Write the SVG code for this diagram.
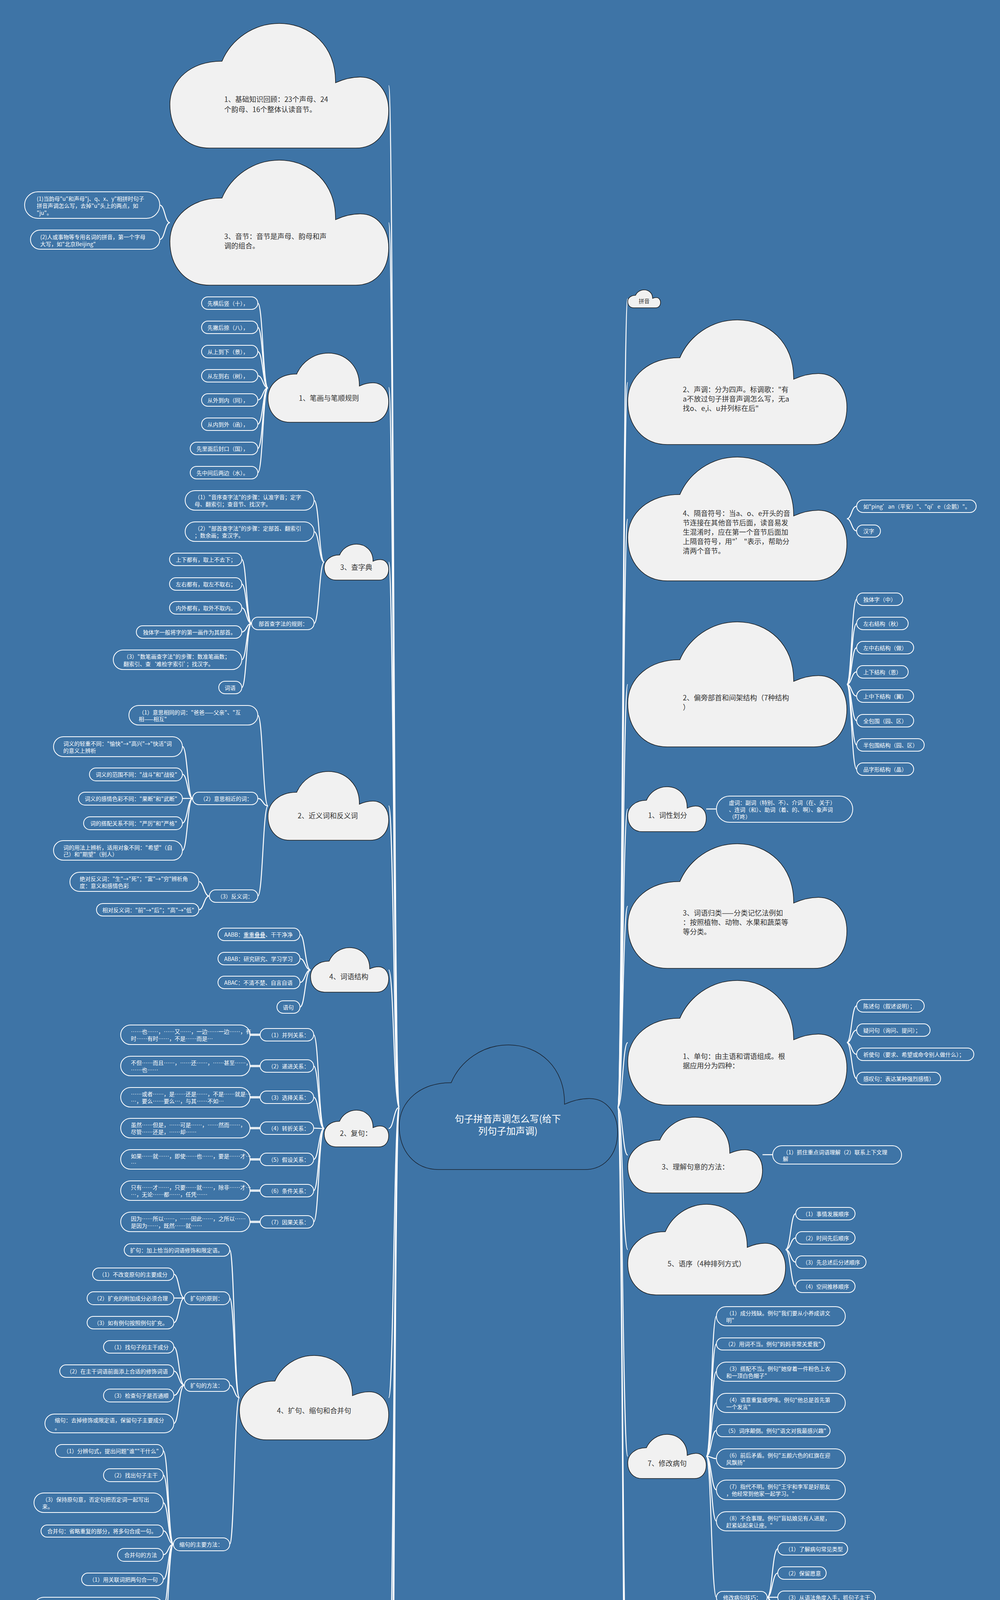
<svg xmlns="http://www.w3.org/2000/svg" width="2560" height="5670" viewBox="0 0 2560 5670">
<defs>
<path id="cloud" vector-effect="non-scaling-stroke" d="M23.8,30.3 C28,13 38,0 50,0 C64,0 76,18 75.7,47.6 C79,45 83,43 87,43 C95,43 100,55 100,70 C100,88 94,100 85,100 L18,100 C7,100 0,85 0,65 C0,45 10,30 23.8,30.3 Z"/>
<style>
.cl{fill:#f1f1f1;stroke:#1a1a1a;stroke-width:1.5}
.cc{fill:none;stroke:#1a2330;stroke-width:1.5}
.pl{fill:none;stroke:#fff;stroke-width:2}
.cn{fill:none;stroke:#fff;stroke-width:2.5}
text{font-family:"Noto Sans CJK SC","Noto Sans",sans-serif;dominant-baseline:central}
.ct{font-size:18px;fill:#333}
.pt{font-size:14px;fill:#fff}
.pc{font-size:14px;fill:#333}
.mt{font-size:24px;fill:#fff;text-anchor:middle}
</style>
</defs>
<rect width="2560" height="5670" fill="#3e74a6"/>

<g id="connectors">
<path class="cn" d="M1022,2835 C1008,2835 1008,219 995,219"/>
<path class="cn" d="M1022,2835 C1008,2835 1008,570 995,570"/>
<path class="cn" d="M1022,2835 C1008,2835 1008,992 995,992"/>
<path class="cn" d="M1022,2835 C1008,2835 1008,1439 995,1439"/>
<path class="cn" d="M1022,2835 C1008,2835 1008,2063 995,2063"/>
<path class="cn" d="M1022,2835 C1008,2835 1008,2483 995,2483"/>
<path class="cn" d="M1022,2835 C1008,2835 1008,2889 995,2889"/>
<path class="cn" d="M1022,2835 C1008,2835 1008,3578 995,3578"/>
<path class="cn" d="M1022,2835 C1008,2835 1008,4331 995,4331"/>
<path class="cn" d="M1022,2835 C1008,2835 1008,4860 995,4860"/>
<path class="cn" d="M1022,2835 C1008,2835 1008,5449 995,5449"/>
<path class="cn" d="M1581,2835 C1594,2835 1594,765 1607,765"/>
<path class="cn" d="M1581,2835 C1594,2835 1594,979 1607,979"/>
<path class="cn" d="M1581,2835 C1594,2835 1594,1329 1607,1329"/>
<path class="cn" d="M1581,2835 C1594,2835 1594,1752 1607,1752"/>
<path class="cn" d="M1581,2835 C1594,2835 1594,2071 1607,2071"/>
<path class="cn" d="M1581,2835 C1594,2835 1594,2320 1607,2320"/>
<path class="cn" d="M1581,2835 C1594,2835 1594,2669 1607,2669"/>
<path class="cn" d="M1581,2835 C1594,2835 1594,2957 1607,2957"/>
<path class="cn" d="M1581,2835 C1594,2835 1594,3199 1607,3199"/>
<path class="cn" d="M1581,2835 C1594,2835 1594,3728 1607,3728"/>
<path class="cn" d="M1581,2835 C1594,2835 1594,4422 1607,4422"/>
<path class="cn" d="M1581,2835 C1594,2835 1594,4770 1607,4770"/>
<path class="cn" d="M435,570 C422,570 422,525 409,525"/>
<path class="cn" d="M435,570 C422,570 422,613 409,613"/>
<path class="cn" d="M686,993 C673,993 673,776 660,776"/>
<path class="cn" d="M686,993 C673,993 673,838 660,838"/>
<path class="cn" d="M686,993 C673,993 673,900 660,900"/>
<path class="cn" d="M686,993 C673,993 673,962 660,962"/>
<path class="cn" d="M686,993 C673,993 673,1024 660,1024"/>
<path class="cn" d="M686,993 C673,993 673,1086 660,1086"/>
<path class="cn" d="M686,993 C673,993 673,1148 660,1148"/>
<path class="cn" d="M686,993 C673,993 673,1210 660,1210"/>
<path class="cn" d="M830,1439 C817,1439 817,1281 804,1281"/>
<path class="cn" d="M830,1439 C817,1439 817,1361 804,1361"/>
<path class="cn" d="M830,1439 C817,1439 817,1596 804,1596"/>
<path class="cn" d="M644,1596 C631,1596 631,1432 619,1432"/>
<path class="cn" d="M644,1596 C631,1596 631,1495 619,1495"/>
<path class="cn" d="M644,1596 C631,1596 631,1556 619,1556"/>
<path class="cn" d="M644,1596 C631,1596 631,1618 619,1618"/>
<path class="cn" d="M644,1596 C631,1596 631,1689 619,1689"/>
<path class="cn" d="M644,1596 C631,1596 631,1760 619,1760"/>
<path class="cn" d="M686,2063 C673,2063 673,1831 660,1831"/>
<path class="cn" d="M686,2063 C673,2063 673,2044 660,2044"/>
<path class="cn" d="M686,2063 C673,2063 673,2294 660,2294"/>
<path class="cn" d="M493,2044 C480,2044 480,1911 467,1911"/>
<path class="cn" d="M493,2044 C480,2044 480,1982 467,1982"/>
<path class="cn" d="M493,2044 C480,2044 480,2044 467,2044"/>
<path class="cn" d="M493,2044 C480,2044 480,2107 467,2107"/>
<path class="cn" d="M493,2044 C480,2044 480,2177 467,2177"/>
<path class="cn" d="M536,2294 C522,2294 522,2257 509,2257"/>
<path class="cn" d="M536,2294 C522,2294 522,2329 509,2329"/>
<path class="cn" d="M795,2483 C781,2483 781,2392 768,2392"/>
<path class="cn" d="M795,2483 C781,2483 781,2454 768,2454"/>
<path class="cn" d="M795,2483 C781,2483 781,2515 768,2515"/>
<path class="cn" d="M795,2483 C781,2483 781,2578 768,2578"/>
<path class="cn" d="M830,2889 C816,2889 816,2649 803,2649"/>
<path class="cn" d="M830,2889 C816,2889 816,2729 803,2729"/>
<path class="cn" d="M830,2889 C816,2889 816,2809 803,2809"/>
<path class="cn" d="M830,2889 C816,2889 816,2888 803,2888"/>
<path class="cn" d="M830,2889 C816,2889 816,2968 803,2968"/>
<path class="cn" d="M830,2889 C816,2889 816,3048 803,3048"/>
<path class="cn" d="M830,2889 C816,2889 816,3128 803,3128"/>
<path class="cn" d="M640,2647.5 H666 M640,2650.5 H666"/>
<path class="cn" d="M640,2727.5 H666 M640,2730.5 H666"/>
<path class="cn" d="M640,2807.5 H666 M640,2810.5 H666"/>
<path class="cn" d="M640,2886.5 H666 M640,2889.5 H666"/>
<path class="cn" d="M640,2966.5 H666 M640,2969.5 H666"/>
<path class="cn" d="M640,3046.5 H666 M640,3049.5 H666"/>
<path class="cn" d="M640,3126.5 H666 M640,3129.5 H666"/>
<path class="cn" d="M613,3578 C600,3578 600,3200 588,3200"/>
<path class="cn" d="M613,3578 C600,3578 600,3323 588,3323"/>
<path class="cn" d="M613,3578 C600,3578 600,3546 588,3546"/>
<path class="cn" d="M613,3578 C600,3578 600,3953 588,3953"/>
<path class="cn" d="M472,3323 C458,3323 458,3262 445,3262"/>
<path class="cn" d="M472,3323 C458,3323 458,3323 445,3323"/>
<path class="cn" d="M472,3323 C458,3323 458,3386 445,3386"/>
<path class="cn" d="M472,3546 C458,3546 458,3448 445,3448"/>
<path class="cn" d="M472,3546 C458,3546 458,3510 445,3510"/>
<path class="cn" d="M472,3546 C458,3546 458,3572 445,3572"/>
<path class="cn" d="M472,3546 C458,3546 458,3644 445,3644"/>
<path class="cn" d="M444,3953 C431,3953 431,3714 418,3714"/>
<path class="cn" d="M444,3953 C431,3953 431,3776 418,3776"/>
<path class="cn" d="M444,3953 C431,3953 431,3847 418,3847"/>
<path class="cn" d="M444,3953 C431,3953 431,3919 418,3919"/>
<path class="cn" d="M444,3953 C431,3953 431,3980 418,3980"/>
<path class="cn" d="M444,3953 C431,3953 431,4043 418,4043"/>
<path class="cn" d="M444,3953 C431,3953 431,4114 418,4114"/>
<path class="cn" d="M444,3953 C431,3953 431,4193 418,4193"/>
<path class="cn" d="M795,4331 C781,4331 781,4282 768,4282"/>
<path class="cn" d="M795,4331 C781,4331 781,4381 768,4381"/>
<path class="cn" d="M592,4860 C578,4860 578,4479 565,4479"/>
<path class="cn" d="M592,4860 C578,4860 578,4568 565,4568"/>
<path class="cn" d="M592,4860 C578,4860 578,4648 565,4648"/>
<path class="cn" d="M592,4860 C578,4860 578,4728 565,4728"/>
<path class="cn" d="M592,4860 C578,4860 578,4808 565,4808"/>
<path class="cn" d="M592,4860 C578,4860 578,4879 565,4879"/>
<path class="cn" d="M592,4860 C578,4860 578,4950 565,4950"/>
<path class="cn" d="M592,4860 C578,4860 578,5030 565,5030"/>
<path class="cn" d="M592,4860 C578,4860 578,5111 565,5111"/>
<path class="cn" d="M592,4860 C578,4860 578,5182 565,5182"/>
<path class="cn" d="M592,4860 C578,4860 578,5244 565,5244"/>
<path class="cn" d="M2168,1328 C2180,1328 2180,1296 2193,1296"/>
<path class="cn" d="M2168,1328 C2180,1328 2180,1359 2193,1359"/>
<path class="cn" d="M2168,1752 C2180,1752 2180,1534 2193,1534"/>
<path class="cn" d="M2168,1752 C2180,1752 2180,1596 2193,1596"/>
<path class="cn" d="M2168,1752 C2180,1752 2180,1658 2193,1658"/>
<path class="cn" d="M2168,1752 C2180,1752 2180,1720 2193,1720"/>
<path class="cn" d="M2168,1752 C2180,1752 2180,1782 2193,1782"/>
<path class="cn" d="M2168,1752 C2180,1752 2180,1845 2193,1845"/>
<path class="cn" d="M2168,1752 C2180,1752 2180,1907 2193,1907"/>
<path class="cn" d="M2168,1752 C2180,1752 2180,1969 2193,1969"/>
<path class="cn" d="M1808,2071 H1834"/>
<path class="cn" d="M2168,2669 C2180,2669 2180,2575 2193,2575"/>
<path class="cn" d="M2168,2669 C2180,2669 2180,2637 2193,2637"/>
<path class="cn" d="M2168,2669 C2180,2669 2180,2699 2193,2699"/>
<path class="cn" d="M2168,2669 C2180,2669 2180,2761 2193,2761"/>
<path class="cn" d="M1952,2956 H1978"/>
<path class="cn" d="M2011,3199 C2024,3199 2024,3107 2037,3107"/>
<path class="cn" d="M2011,3199 C2024,3199 2024,3169 2037,3169"/>
<path class="cn" d="M2011,3199 C2024,3199 2024,3231 2037,3231"/>
<path class="cn" d="M2011,3199 C2024,3199 2024,3293 2037,3293"/>
<path class="cn" d="M1808,3728 C1821,3728 1821,3369 1834,3369"/>
<path class="cn" d="M1808,3728 C1821,3728 1821,3440 1834,3440"/>
<path class="cn" d="M1808,3728 C1821,3728 1821,3511 1834,3511"/>
<path class="cn" d="M1808,3728 C1821,3728 1821,3591 1834,3591"/>
<path class="cn" d="M1808,3728 C1821,3728 1821,3662 1834,3662"/>
<path class="cn" d="M1808,3728 C1821,3728 1821,3734 1834,3734"/>
<path class="cn" d="M1808,3728 C1821,3728 1821,3814 1834,3814"/>
<path class="cn" d="M1808,3728 C1821,3728 1821,3894 1834,3894"/>
<path class="cn" d="M1808,3728 C1821,3728 1821,4089 1834,4089"/>
<path class="cn" d="M1964,4089 C1977,4089 1977,3965 1991,3965"/>
<path class="cn" d="M1964,4089 C1977,4089 1977,4027 1991,4027"/>
<path class="cn" d="M1964,4089 C1977,4089 1977,4089 1991,4089"/>
<path class="cn" d="M1964,4089 C1977,4089 1977,4151 1991,4151"/>
<path class="cn" d="M1964,4089 C1977,4089 1977,4213 1991,4213"/>
</g>

<g id="n-center">
<use href="#cloud" class="cc" transform="translate(1022 2675) scale(5.59 3.19)"/>
<text class="mt"><tspan x="1300" y="2862">句子拼音声调怎么写(给下</tspan><tspan x="1300" y="2893">列句子加声调)</tspan></text>
</g>

<g id="n-basic">
<use href="#cloud" class="cl" transform="translate(435 60) scale(5.6 3.19)"/>
<text class="ct"><tspan x="574" y="253">1、基础知识回顾：23个声母、24</tspan><tspan x="574" y="279">个韵母、16个整体认读音节。</tspan></text>
</g>
<g id="n-syllable">
<use href="#cloud" class="cl" transform="translate(435 410) scale(5.6 3.2)"/>
<text class="ct"><tspan x="574" y="604">3、音节：音节是声母、韵母和声</tspan><tspan x="574" y="628">调的组合。</tspan></text>
</g>
<g id="n-syl-1">
<rect class="pl" x="63" y="491" width="346" height="68" rx="34"/>
<text class="pt"><tspan x="94" y="508">(1)当韵母"u"和声母"j、q、x、y"相拼时句子</tspan><tspan x="94" y="526">拼音声调怎么写，去掉"u"头上的两点，如</tspan><tspan x="94" y="544">"ju"。</tspan></text>
</g>
<g id="n-syl-2">
<rect class="pl" x="78" y="589" width="331" height="49" rx="24.5"/>
<text class="pt"><tspan x="103" y="606">(2)人或事物等专用名词的拼音，第一个字母</tspan><tspan x="103" y="624">大写，如"北京Beijing"</tspan></text>
</g>

<g id="n-stroke">
<use href="#cloud" class="cl" transform="translate(686 904) scale(3.09 1.77)"/>
<text class="ct" x="765" y="1018">1、笔画与笔顺规则</text>
</g>
<g id="n-stroke-items">
<rect class="pl" x="516" y="760" width="144" height="32" rx="16"/><text class="pt" x="531" y="776">先横后竖（十），</text>
<rect class="pl" x="516" y="822" width="144" height="32" rx="16"/><text class="pt" x="531" y="838">先撇后捺（八），</text>
<rect class="pl" x="516" y="884" width="144" height="32" rx="16"/><text class="pt" x="531" y="900">从上到下（景），</text>
<rect class="pl" x="516" y="946" width="144" height="32" rx="16"/><text class="pt" x="531" y="962">从左到右（树），</text>
<rect class="pl" x="516" y="1008" width="144" height="32" rx="16"/><text class="pt" x="531" y="1024">从外到内（同），</text>
<rect class="pl" x="516" y="1070" width="144" height="32" rx="16"/><text class="pt" x="531" y="1086">从内到外（函），</text>
<rect class="pl" x="487" y="1132" width="173" height="32" rx="16"/><text class="pt" x="503" y="1148">先里面后封口（国），</text>
<rect class="pl" x="487" y="1194" width="173" height="32" rx="16"/><text class="pt" x="503" y="1210">先中间后两边（水）。</text>
</g>

<g id="n-dict">
<use href="#cloud" class="cl" transform="translate(830 1393) scale(1.65 0.92)"/>
<text class="ct" x="871" y="1451">3、查字典</text>
</g>
<g id="n-dict-items">
<rect class="pl" x="474" y="1256" width="330" height="50" rx="25"/>
<text class="pt"><tspan x="498" y="1272">（1）"音序查字法"的步骤：认准字音；定字</tspan><tspan x="498" y="1290">母、翻索引；查音节、找汉字。</tspan></text>
<rect class="pl" x="474" y="1336" width="330" height="50" rx="25"/>
<text class="pt"><tspan x="498" y="1352">（2）"部首查字法"的步骤：定部首、翻索引</tspan><tspan x="498" y="1370">；数余画；查汉字。</tspan></text>
<rect class="pl" x="644" y="1580" width="160" height="32" rx="16"/><text class="pt" x="662" y="1596">部首查字法的规则：</text>
<rect class="pl" x="434" y="1416" width="185" height="32" rx="16"/><text class="pt" x="450" y="1432">上下都有，取上不去下；</text>
<rect class="pl" x="434" y="1479" width="185" height="32" rx="16"/><text class="pt" x="450" y="1495">左右都有，取左不取右；</text>
<rect class="pl" x="434" y="1540" width="185" height="32" rx="16"/><text class="pt" x="450" y="1556">内外都有，取外不取内。</text>
<rect class="pl" x="349" y="1602" width="270" height="32" rx="16"/><text class="pt" x="366" y="1618">独体字一般将字的第一画作为其部首。</text>
<rect class="pl" x="290" y="1664" width="329" height="50" rx="25"/>
<text class="pt"><tspan x="316" y="1680">（3）"数笔画查字法"的步骤：数准笔画数；</tspan><tspan x="316" y="1699">翻索引、查‘难检字索引’；找汉字。</tspan></text>
<rect class="pl" x="560" y="1744" width="59" height="32" rx="16"/><text class="pt" x="589" y="1760" text-anchor="middle">词语</text>
</g>

<g id="n-syn">
<use href="#cloud" class="cl" transform="translate(686 1975) scale(3.09 1.76)"/>
<text class="ct" x="762" y="2087">2、近义词和反义词</text>
</g>
<g id="n-syn-items">
<rect class="pl" x="330" y="1806" width="330" height="50" rx="25"/>
<text class="pt"><tspan x="355" y="1823">（1）意思相同的词："爸爸——父亲"、"互</tspan><tspan x="355" y="1840">相——相互"</tspan></text>
<rect class="pl" x="493" y="2028" width="167" height="32" rx="16"/><text class="pt" x="512" y="2044">（2）意思相近的词：</text>
<rect class="pl" x="536" y="2278" width="124" height="32" rx="16"/><text class="pt" x="556" y="2294">（3）反义词：</text>
<rect class="pl" x="137" y="1886" width="330" height="51" rx="25.5"/>
<text class="pt"><tspan x="162" y="1903">词义的轻重不同："愉快"→"高兴"→"快活"词</tspan><tspan x="162" y="1921">的意义上辨析</tspan></text>
<rect class="pl" x="229" y="1966" width="238" height="33" rx="16.5"/><text class="pt" x="245" y="1982">词义的范围不同："战斗"和"战役"</text>
<rect class="pl" x="201" y="2028" width="266" height="33" rx="16.5"/><text class="pt" x="217" y="2044">词义的感情色彩不同："果断"和"武断"</text>
<rect class="pl" x="214" y="2091" width="253" height="33" rx="16.5"/><text class="pt" x="231" y="2107">词的搭配关系不同："严厉"和"严格"</text>
<rect class="pl" x="137" y="2152" width="330" height="50" rx="25"/>
<text class="pt"><tspan x="162" y="2169">词的用法上辨析，适用对象不同："希望"（自</tspan><tspan x="162" y="2186">己）和"期望"（别人）</tspan></text>
<rect class="pl" x="179" y="2233" width="330" height="49" rx="24.5"/>
<text class="pt"><tspan x="204" y="2249">绝对反义词："生"→"死"；"富"→"穷"辨析角</tspan><tspan x="204" y="2267">度：意义和感情色彩</tspan></text>
<rect class="pl" x="247" y="2313" width="262" height="32" rx="16"/><text class="pt" x="262" y="2329">相对反义词："前"→"后"；"高"→"低"</text>
</g>

<g id="n-struct">
<use href="#cloud" class="cl" transform="translate(795 2426) scale(2 1.14)"/>
<text class="ct" x="843" y="2499">4、词语结构</text>
</g>
<g id="n-struct-items">
<rect class="pl" x="558" y="2376" width="210" height="32" rx="16"/><text class="pt" x="574" y="2392">AABB：<tspan text-decoration="underline">重重叠叠</tspan>、干干净净</text>
<rect class="pl" x="558" y="2438" width="210" height="32" rx="16"/><text class="pt" x="574" y="2454">ABAB：研究研究、学习学习</text>
<rect class="pl" x="558" y="2499" width="210" height="32" rx="16"/><text class="pt" x="574" y="2515">ABAC：不清不楚、自言自语</text>
<rect class="pl" x="709" y="2562" width="59" height="32" rx="16"/><text class="pt" x="738" y="2578" text-anchor="middle">语句</text>
</g>

<g id="n-complex">
<use href="#cloud" class="cl" transform="translate(830 2842) scale(1.65 0.94)"/>
<text class="ct" x="870" y="2900">2、复句：</text>
</g>
<g id="n-complex-items">
<rect class="pl" x="666" y="2633" width="137" height="32" rx="16"/><text class="pt" x="686" y="2649">（1）并列关系：</text>
<rect class="pl" x="666" y="2713" width="137" height="32" rx="16"/><text class="pt" x="686" y="2729">（2）递进关系：</text>
<rect class="pl" x="666" y="2793" width="137" height="32" rx="16"/><text class="pt" x="686" y="2809">（3）选择关系：</text>
<rect class="pl" x="666" y="2872" width="137" height="32" rx="16"/><text class="pt" x="686" y="2888">（4）转折关系：</text>
<rect class="pl" x="666" y="2952" width="137" height="32" rx="16"/><text class="pt" x="686" y="2968">（5）假设关系：</text>
<rect class="pl" x="666" y="3032" width="137" height="32" rx="16"/><text class="pt" x="686" y="3048">（6）条件关系：</text>
<rect class="pl" x="666" y="3112" width="137" height="32" rx="16"/><text class="pt" x="686" y="3128">（7）因果关系：</text>
<rect class="pl" x="309" y="2624" width="331" height="50" rx="25"/>
<text class="pt"><tspan x="335" y="2640">……也……，……又……，一边……一边……，有</tspan><tspan x="335" y="2658">时……有时……，不是……而是…</tspan></text>
<rect class="pl" x="309" y="2704" width="331" height="50" rx="25"/>
<text class="pt"><tspan x="335" y="2720">不但……而且……，……还……，……甚至……，</tspan><tspan x="335" y="2738">……也……</tspan></text>
<rect class="pl" x="309" y="2784" width="331" height="50" rx="25"/>
<text class="pt"><tspan x="335" y="2800">……或者……，是……还是……，不是……就是…</tspan><tspan x="335" y="2818">…，要么……要么…，与其……不如…</tspan></text>
<rect class="pl" x="309" y="2863" width="331" height="50" rx="25"/>
<text class="pt"><tspan x="335" y="2879">虽然……但是，……可是……，……然而……，</tspan><tspan x="335" y="2897">尽管……还是，……却……</tspan></text>
<rect class="pl" x="309" y="2943" width="331" height="50" rx="25"/>
<text class="pt"><tspan x="335" y="2959">如果……就……，即使……也……，要是……才…</tspan><tspan x="335" y="2977">…</tspan></text>
<rect class="pl" x="309" y="3023" width="331" height="50" rx="25"/>
<text class="pt"><tspan x="335" y="3039">只有……才……，只要……就……，除非……才…</tspan><tspan x="335" y="3057">…，无论……都……，任凭……</tspan></text>
<rect class="pl" x="309" y="3103" width="331" height="50" rx="25"/>
<text class="pt"><tspan x="335" y="3119">因为……所以……，……因此……，之所以……</tspan><tspan x="335" y="3137">是因为……，既然……就……</tspan></text>
</g>

<g id="n-expand">
<use href="#cloud" class="cl" transform="translate(613 3470) scale(3.82 2.16)"/>
<text class="ct" x="709" y="3610">4、扩句、缩句和合并句</text>
</g>
<g id="n-expand-items">
<rect class="pl" x="318" y="3184" width="270" height="32" rx="16"/><text class="pt" x="333" y="3200">扩句：加上恰当的词语修饰和限定语。</text>
<rect class="pl" x="472" y="3307" width="116" height="33" rx="16.5"/><text class="pt" x="487" y="3323">扩句的原则：</text>
<rect class="pl" x="472" y="3530" width="116" height="32" rx="16"/><text class="pt" x="487" y="3546">扩句的方法：</text>
<rect class="pl" x="444" y="3937" width="144" height="33" rx="16.5"/><text class="pt" x="459" y="3953">缩句的主要方法：</text>
<rect class="pl" x="237" y="3246" width="208" height="32" rx="16"/><text class="pt" x="253" y="3262">（1）不改变原句的主要成分</text>
<rect class="pl" x="223" y="3307" width="222" height="33" rx="16.5"/><text class="pt" x="240" y="3323">（2）扩充的附加成分必须合理</text>
<rect class="pl" x="223" y="3370" width="222" height="32" rx="16"/><text class="pt" x="240" y="3386">（3）如有例句按照例句扩充。</text>
<rect class="pl" x="265" y="3432" width="180" height="32" rx="16"/><text class="pt" x="284" y="3448">（1）找句子的主干成分</text>
<rect class="pl" x="153" y="3494" width="292" height="32" rx="16"/><text class="pt" x="170" y="3510">（2）在主干词语前面添上合适的修饰词语</text>
<rect class="pl" x="265" y="3556" width="180" height="33" rx="16.5"/><text class="pt" x="284" y="3572">（3）检查句子是否通顺</text>
<rect class="pl" x="115" y="3620" width="330" height="48" rx="24"/>
<text class="pt"><tspan x="140" y="3635">缩句：去掉修饰或限定语，保留句子主要成分</tspan><tspan x="140" y="3654">。</tspan></text>
<rect class="pl" x="142" y="3698" width="276" height="33" rx="16.5"/><text class="pt" x="162" y="3714">（1）分辨句式，提出问题"谁""干什么"</text>
<rect class="pl" x="265" y="3760" width="153" height="33" rx="16.5"/><text class="pt" x="284" y="3776">（2）找出句子主干</text>
<rect class="pl" x="87" y="3822" width="331" height="50" rx="25"/>
<text class="pt"><tspan x="108" y="3838">（3）保持原句意，否定句把否定词一起写出</tspan><tspan x="108" y="3856">来。</tspan></text>
<rect class="pl" x="105" y="3904" width="313" height="31" rx="15.5"/><text class="pt" x="121" y="3919">合并句：省略重复的部分，将多句合成一句。</text>
<rect class="pl" x="301" y="3964" width="117" height="33" rx="16.5"/><text class="pt" x="318" y="3980">合并句的方法</text>
<rect class="pl" x="209" y="4027" width="209" height="32" rx="16"/><text class="pt" x="228" y="4043">（1）用关联词把两句合一句</text>
<rect class="pl" x="87" y="4089" width="331" height="50" rx="25"/>
<text class="pt"><tspan x="108" y="4105">（2）同一个主体发出两个不同的动作，去省</tspan><tspan x="108" y="4123">其中的一个主语。</tspan></text>
<rect class="pl" x="87" y="4169" width="331" height="49" rx="24.5"/>
<text class="pt"><tspan x="108" y="4185">（3）一个主体既是前一个动作的接受者，又</tspan><tspan x="108" y="4203">是后一个动词的发出者。</tspan></text>
</g>

<g id="n-transform">
<use href="#cloud" class="cl" transform="translate(795 4274) scale(2 1.15)"/>
<text class="ct" x="844" y="4346">6、句式转换</text>
</g>
<g id="n-transform-items">
<rect class="pl" x="420" y="4248" width="348" height="69" rx="34.5"/>
<text class="pt"><tspan x="453" y="4265">（1）"把"字句（主动句）和"被"字句（被动</tspan><tspan x="453" y="4283">句），动作发出者和动作接受者相互转换，更</tspan><tspan x="453" y="4301">换主语。</tspan></text>
<rect class="pl" x="420" y="4346" width="348" height="70" rx="35"/>
<text class="pt"><tspan x="453" y="4363">（2）主说和转述："三个改变"第一，改变标</tspan><tspan x="453" y="4381">点符号：""→，。第二，改变人称。第三，根</tspan><tspan x="453" y="4399">据需要删减个别字，保持句子通顺。</tspan></text>
</g>

<g id="n-rhetoric">
<use href="#cloud" class="cl" transform="translate(592 4746) scale(4.03 2.29)"/>
<text class="ct" x="694" y="4896">8、修辞（6种常见修辞）</text>
</g>
<g id="n-rhetoric-items">
<rect class="pl" x="217" y="4446" width="348" height="67" rx="33.5"/>
<text class="pt"><tspan x="252" y="4462">（1）比喻：打比方，根据事物的相似点，用</tspan><tspan x="252" y="4480">具体的、浅显的、熟知的事物比方另一个抽象</tspan><tspan x="252" y="4498">的、深奥的事物。</tspan></text>
<rect class="pl" x="235" y="4543" width="330" height="50" rx="25"/>
<text class="pt"><tspan x="260" y="4559">"本体"+"比喻词"（像、仿佛、似乎、如同、</tspan><tspan x="260" y="4577">好比、变成、是）+"喻体</tspan></text>
<rect class="pl" x="235" y="4623" width="330" height="50" rx="25"/>
<text class="pt"><tspan x="260" y="4639">（2）拟人：把物当作人来描写。例如"古老</tspan><tspan x="260" y="4657">的威尼斯沉沉地睡了"</tspan></text>
<rect class="pl" x="235" y="4703" width="330" height="51" rx="25.5"/>
<text class="pt"><tspan x="260" y="4720">（3）排比：结构相似、证据一致，意思密切</tspan><tspan x="260" y="4738">相关的三个或三个以上短语。</tspan></text>
<rect class="pl" x="235" y="4784" width="330" height="49" rx="24.5"/>
<text class="pt"><tspan x="260" y="4800">（4）反问：无疑而问，明知故问，目的在于</tspan><tspan x="260" y="4818">加强语气。</tspan></text>
<rect class="pl" x="269" y="4864" width="296" height="31" rx="15.5"/><text class="pt" x="285" y="4879">例句"这比山还高的情谊，我们怎能忘怀？"</text>
<rect class="pl" x="235" y="4926" width="330" height="49" rx="24.5"/>
<text class="pt"><tspan x="260" y="4942">（5）设问：无疑而问，自问自答，目的在于</tspan><tspan x="260" y="4960">引起读者的注意和思考。</tspan></text>
<rect class="pl" x="235" y="5005" width="330" height="51" rx="25.5"/>
<text class="pt"><tspan x="260" y="5022">"狼的本性会突然改变吗？不会，绝对不会句</tspan><tspan x="260" y="5040">子拼音声调怎么写！"</tspan></text>
<rect class="pl" x="235" y="5086" width="330" height="50" rx="25"/>
<text class="pt"><tspan x="260" y="5102">（6）夸张：为了表达需要，故意把事物的形</tspan><tspan x="260" y="5120">象、特征、作用夸大或缩小，突出印象。</tspan></text>
<rect class="pl" x="423" y="5167" width="142" height="31" rx="15.5"/><text class="pt" x="440" y="5182">"飞流直下三千尺"</text>
<rect class="pl" x="477" y="5228" width="88" height="32" rx="16"/><text class="pt" x="493" y="5244">标点符号</text>
</g>

<g id="n-marks">
<use href="#cloud" class="cl" transform="translate(434 5290) scale(5.61 3.18)"/>
<text class="ct"><tspan x="575" y="5452">2、标号（9种）：引号""；括号（</tspan><tspan x="575" y="5476">）；破折号——；省略号……；书</tspan><tspan x="575" y="5500">名号《》；连接号一；着重号.；</tspan><tspan x="575" y="5524">间隔号·；专名号——</tspan></text>
</g>

<g id="n-pinyin">
<use href="#cloud" class="cl" transform="translate(1607 742) scale(0.84 0.46)"/>
<text class="pc" x="1649" y="770" text-anchor="middle">拼音</text>
</g>
<g id="n-tone">
<use href="#cloud" class="cl" transform="translate(1607 819) scale(5.61 3.19)"/>
<text class="ct"><tspan x="1748" y="996">2、声调：分为四声。标调歌："有</tspan><tspan x="1748" y="1020">a不放过句子拼音声调怎么写，无a</tspan><tspan x="1748" y="1044">找o、e,i、u并列标在后"</tspan></text>
</g>
<g id="n-apos">
<use href="#cloud" class="cl" transform="translate(1607 1170) scale(5.61 3.17)"/>
<text class="ct"><tspan x="1748" y="1313">4、隔音符号：当a、o、e开头的音</tspan><tspan x="1748" y="1337">节连接在其他音节后面，读音易发</tspan><tspan x="1748" y="1361">生混淆时，应在第一个音节后面加</tspan><tspan x="1748" y="1385">上隔音符号，用"’ "表示，帮助分</tspan><tspan x="1748" y="1409">清两个音节。</tspan></text>
</g>
<g id="n-apos-items">
<rect class="pl" x="2193" y="1280" width="306" height="32" rx="16"/><text class="pt" x="2210" y="1296">如"ping’an（平安）"、"qi’e（企鹅）"。</text>
<rect class="pl" x="2193" y="1344" width="61" height="31" rx="15.5"/><text class="pt" x="2210" y="1359">汉字</text>
</g>
<g id="n-radical">
<use href="#cloud" class="cl" transform="translate(1607 1592) scale(5.61 3.2)"/>
<text class="ct"><tspan x="1748" y="1785">2、偏旁部首和间架结构（7种结构</tspan><tspan x="1748" y="1809">）</tspan></text>
</g>
<g id="n-radical-items">
<rect class="pl" x="2193" y="1518" width="118" height="32" rx="16"/><text class="pt" x="2210" y="1534">独体字（中）</text>
<rect class="pl" x="2193" y="1580" width="132" height="32" rx="16"/><text class="pt" x="2210" y="1596">左右结构（秋）</text>
<rect class="pl" x="2193" y="1642" width="146" height="32" rx="16"/><text class="pt" x="2210" y="1658">左中右结构（做）</text>
<rect class="pl" x="2193" y="1704" width="132" height="32" rx="16"/><text class="pt" x="2210" y="1720">上下结构（恩）</text>
<rect class="pl" x="2193" y="1766" width="146" height="32" rx="16"/><text class="pt" x="2210" y="1782">上中下结构（翼）</text>
<rect class="pl" x="2193" y="1829" width="146" height="32" rx="16"/><text class="pt" x="2210" y="1845">全包围（园、区）</text>
<rect class="pl" x="2193" y="1891" width="173" height="32" rx="16"/><text class="pt" x="2210" y="1907">半包围结构（园、区）</text>
<rect class="pl" x="2193" y="1953" width="146" height="32" rx="16"/><text class="pt" x="2210" y="1969">品字形结构（晶）</text>
</g>
<g id="n-pos">
<use href="#cloud" class="cl" transform="translate(1607 2014) scale(2.01 1.15)"/>
<text class="ct" x="1659" y="2086">1、词性划分</text>
</g>
<g id="n-pos-items">
<rect class="pl" x="1834" y="2038" width="349" height="67" rx="33.5"/>
<text class="pt"><tspan x="1866" y="2054">虚词：副词（特别、不）、介词（在、关于）</tspan><tspan x="1866" y="2072">、连词（和）、助词（着、的、啊）、象声词</tspan><tspan x="1866" y="2090">（叮咚）</tspan></text>
</g>
<g id="n-classify">
<use href="#cloud" class="cl" transform="translate(1607 2160) scale(5.61 3.19)"/>
<text class="ct"><tspan x="1748" y="2336">3、词语归类——分类记忆法例如</tspan><tspan x="1748" y="2360">：按照植物、动物、水果和蔬菜等</tspan><tspan x="1748" y="2384">等分类。</tspan></text>
</g>
<g id="n-simple">
<use href="#cloud" class="cl" transform="translate(1607 2510) scale(5.61 3.19)"/>
<text class="ct"><tspan x="1748" y="2703">1、单句：由主语和谓语组成。根</tspan><tspan x="1748" y="2727">据应用分为四种：</tspan></text>
</g>
<g id="n-simple-items">
<rect class="pl" x="2193" y="2559" width="173" height="32" rx="16"/><text class="pt" x="2210" y="2575">陈述句（叙述说明）；</text>
<rect class="pl" x="2193" y="2621" width="188" height="32" rx="16"/><text class="pt" x="2210" y="2637">疑问句（询问、提问）；</text>
<rect class="pl" x="2193" y="2683" width="300" height="32" rx="16"/><text class="pt" x="2210" y="2699">祈使句（要求、希望或命令别人做什么）；</text>
<rect class="pl" x="2193" y="2745" width="215" height="32" rx="16"/><text class="pt" x="2210" y="2761">感叹句：表达某种强烈感情）</text>
</g>
<g id="n-meaning">
<use href="#cloud" class="cl" transform="translate(1607 2860) scale(3.45 1.94)"/>
<text class="ct" x="1694" y="2986">3、理解句意的方法：</text>
</g>
<g id="n-meaning-items">
<rect class="pl" x="1978" y="2933" width="330" height="47" rx="23.5"/>
<text class="pt"><tspan x="2004" y="2949">（1）抓住重点词语理解（2）联系上下文理</tspan><tspan x="2004" y="2966">解</tspan></text>
</g>
<g id="n-order">
<use href="#cloud" class="cl" transform="translate(1607 3083) scale(4.04 2.32)"/>
<text class="ct" x="1709" y="3234">5、语序（4种排列方式）</text>
</g>
<g id="n-order-items">
<rect class="pl" x="2037" y="3091" width="152" height="32" rx="16"/><text class="pt" x="2054" y="3107">（1）事情发展顺序</text>
<rect class="pl" x="2037" y="3153" width="152" height="32" rx="16"/><text class="pt" x="2054" y="3169">（2）时间先后顺序</text>
<rect class="pl" x="2037" y="3215" width="180" height="32" rx="16"/><text class="pt" x="2054" y="3231">（3）先总述后分述顺序</text>
<rect class="pl" x="2037" y="3277" width="152" height="32" rx="16"/><text class="pt" x="2054" y="3293">（4）空间推移顺序</text>
</g>
<g id="n-fix">
<use href="#cloud" class="cl" transform="translate(1607 3672) scale(2.01 1.13)"/>
<text class="ct" x="1658" y="3745">7、修改病句</text>
</g>
<g id="n-fix-items">
<rect class="pl" x="1834" y="3345" width="330" height="49" rx="24.5"/>
<text class="pt"><tspan x="1859" y="3361">（1）成分残缺。例句"我们要从小养成讲文</tspan><tspan x="1859" y="3379">明"</tspan></text>
<rect class="pl" x="1834" y="3425" width="277" height="31" rx="15.5"/><text class="pt" x="1856" y="3440">（2）用词不当。例句"妈妈非常关爱我"</text>
<rect class="pl" x="1834" y="3487" width="330" height="49" rx="24.5"/>
<text class="pt"><tspan x="1859" y="3503">（3）搭配不当。例句"她穿着一件粉色上衣</tspan><tspan x="1859" y="3521">和一顶白色帽子"</tspan></text>
<rect class="pl" x="1834" y="3567" width="330" height="49" rx="24.5"/>
<text class="pt"><tspan x="1859" y="3583">（4）语意重复或啰嗦。例句"他总是首先第</tspan><tspan x="1859" y="3601">一个发言"</tspan></text>
<rect class="pl" x="1834" y="3647" width="291" height="31" rx="15.5"/><text class="pt" x="1856" y="3662">（5）词序颠倒。例句"语文对我最感兴趣"</text>
<rect class="pl" x="1834" y="3709" width="330" height="50" rx="25"/>
<text class="pt"><tspan x="1859" y="3725">（6）前后矛盾。例句"五颜六色的红旗在迎</tspan><tspan x="1859" y="3743">风飘扬"</tspan></text>
<rect class="pl" x="1834" y="3789" width="330" height="50" rx="25"/>
<text class="pt"><tspan x="1859" y="3805">（7）指代不明。例句"王宇和李军是好朋友</tspan><tspan x="1859" y="3823">，他经常到他家一起学习。"</tspan></text>
<rect class="pl" x="1834" y="3870" width="330" height="49" rx="24.5"/>
<text class="pt"><tspan x="1859" y="3886">（8）不合事理。例句"盲姑娘见有人进屋，</tspan><tspan x="1859" y="3904">赶紧站起来让座。"</tspan></text>
<rect class="pl" x="1834" y="4074" width="130" height="31" rx="15.5"/><text class="pt" x="1851" y="4089">修改病句技巧：</text>
<rect class="pl" x="1991" y="3949" width="179" height="32" rx="16"/><text class="pt" x="2010" y="3965">（1）了解病句常见类型</text>
<rect class="pl" x="1991" y="4011" width="124" height="32" rx="16"/><text class="pt" x="2010" y="4027">（2）保留愿意</text>
<rect class="pl" x="1991" y="4073" width="250" height="32" rx="16"/><text class="pt" x="2010" y="4089">（3）从语法角度入手，抓句子主干</text>
<rect class="pl" x="1991" y="4135" width="236" height="32" rx="16"/><text class="pt" x="2010" y="4151">（4）从词法角度入手看词语搭配</text>
<rect class="pl" x="1991" y="4197" width="166" height="32" rx="16"/><text class="pt" x="2010" y="4213">（5）从逻辑事理入手</text>
</g>
<g id="n-point">
<use href="#cloud" class="cl" transform="translate(1607 4266) scale(5.61 3.13)"/>
<text class="ct"><tspan x="1748" y="4421">1、点号（7种）：句号"。"；问号"</tspan><tspan x="1748" y="4445">？"；感叹句"句子拼音声调怎么写</tspan><tspan x="1748" y="4469">！"；逗号"，"；顿号"、"；分号"</tspan><tspan x="1748" y="4493">；"；冒号"："</tspan></text>
</g>
<g id="n-position">
<use href="#cloud" class="cl" transform="translate(1607 4610) scale(5.61 3.19)"/>
<text class="ct"><tspan x="1748" y="4739">3、位置：点号放在右下角，占一</tspan><tspan x="1748" y="4763">个字的位置，不放在另一行开头；</tspan><tspan x="1748" y="4787">标号"前不置尾，后不在开头"；省</tspan><tspan x="1748" y="4811">略号和破折号占两个字的位置，不</tspan><tspan x="1748" y="4835">能分两截分放在上行末尾和下行开</tspan><tspan x="1748" y="4859">头。</tspan></text>
</g>
</svg>
